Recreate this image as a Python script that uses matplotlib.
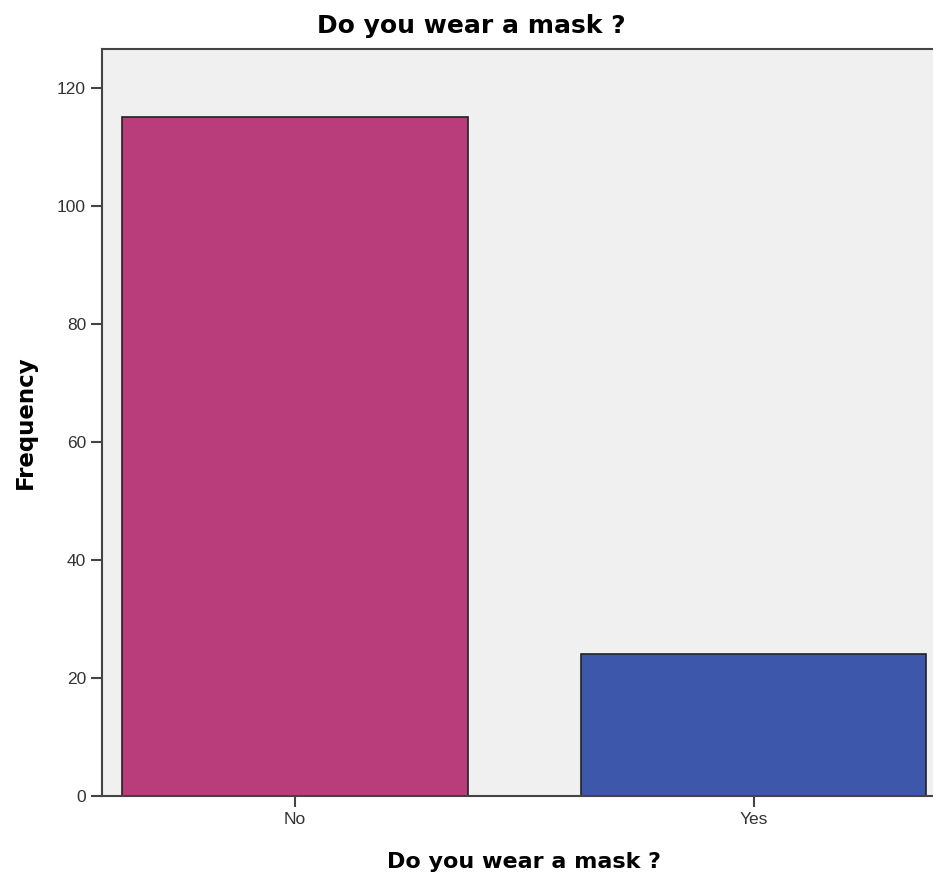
import numpy as np
import matplotlib.pyplot as plt

plt.rcParams['font.family'] = ['Liberation Sans', 'DejaVu Sans']

categories = ['No', 'Yes']
counts = [115, 24]
colors = ['#B83D7A', '#3D57AA']

fig = plt.figure(figsize=(9.33, 8.84), dpi=100)
W, H = 933, 884
ax = fig.add_axes([102 / W, (H - 796) / H, (950 - 102) / W, (796 - 49) / H])
ax.set_facecolor('#F0F0F0')

x = np.arange(len(categories))
ax.bar(x, counts, width=0.753, color=colors, edgecolor='#222222', linewidth=1.2, zorder=2)

ax.set_xlim(-0.421, 1.428)
ax.set_ylim(0, 126.6)
ax.set_xticks(x)
ax.set_xticklabels(categories)
ax.set_yticks(np.arange(0, 121, 20))

for s in ['left', 'bottom', 'top']:
    ax.spines[s].set_color('#444444')
    ax.spines[s].set_linewidth(1.5)
ax.spines['right'].set_visible(False)

ax.tick_params(axis='both', direction='out', length=8, width=1.5, color='#444444',
               labelsize=12.5, labelcolor='#333333')

bold = dict(family='DejaVu Sans', fontweight='bold')
fig.text(471 / W, 1 - 26 / H, 'Do you wear a mask ?', fontsize=18, ha='center', va='center', **bold)
fig.text(524 / W, 1 - 862 / H, 'Do you wear a mask ?', fontsize=16, ha='center', va='center', **bold)
fig.text(25 / W, 1 - 422 / H, 'Frequency', fontsize=16.5, rotation=90, ha='center', va='center', **bold)

fig.savefig('out.png', dpi=100)
